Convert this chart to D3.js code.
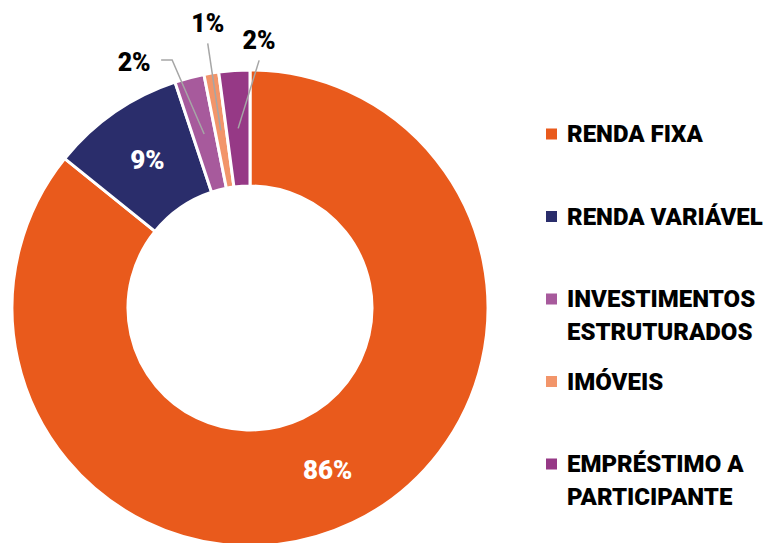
<!DOCTYPE html>
<html>
<head>
<meta charset="utf-8">
<script src="https://cdn.jsdelivr.net/npm/d3@7"></script>
<style>
  body { margin: 0; background: #fff; }
  text { font-family: Roboto, "Noto Sans", sans-serif; font-weight: 900; }
</style>
</head>
<body>
<svg id="chart" width="767" height="543"></svg>
<script>
// carteira por segmento (%)
var categories = ["RENDA FIXA", "RENDA VARIÁVEL", "INVESTIMENTOS ESTRUTURADOS", "IMÓVEIS", "EMPRÉSTIMO A PARTICIPANTE"];
var values = [85.8, 9.1, 2.0, 1.0, 2.1];
var legendLines = [["RENDA FIXA"], ["RENDA VARIÁVEL"], ["INVESTIMENTOS", "ESTRUTURADOS"], ["IMÓVEIS"], ["EMPRÉSTIMO A", "PARTICIPANTE"]];
var colors = ["#e95a1c", "#2a2d6b", "#a75a9c", "#f2956a", "#963986"];

var svg = d3.select("#chart");
var cx = 250, cy = 308, outerR = 238, innerR = 122;

var data = categories.map(function(c, i) { return {name: c, value: values[i], color: colors[i]}; });

var pie = d3.pie().sort(null).value(function(d) { return d.value; });
var arc = d3.arc().innerRadius(innerR).outerRadius(outerR);
var arcs = pie(data);

var g = svg.append("g").attr("transform", "translate(" + cx + "," + cy + ")");

g.selectAll("path.slice")
    .data(arcs)
    .enter()
    .append("path")
    .attr("class", "slice")
    .attr("d", arc)
    .attr("fill", function(d) { return d.data.color; })
    .attr("stroke", "#fff")
    .attr("stroke-width", 3);

// big slices: label inside
g.selectAll("text.inner")
    .data(arcs.filter(function(d) { return d.data.value >= 5; }))
    .enter()
    .append("text")
    .attr("class", "inner")
    .attr("transform", function(d) { return "translate(" + arc.centroid(d) + ")"; })
    .attr("text-anchor", "middle")
    .attr("dy", "0.35em")
    .attr("fill", "#fff")
    .style("font-size", "26px")
    .text(function(d) { return Math.round(d.data.value) + "%"; });

// small slices: label outside with leader line
var outside = arcs.filter(function(d) { return d.data.value < 5; });
// label offsets relative to centroid
var labelPos = [[-70, -72], [-13, -107], [21, -88]];
var elbow = [true, false, false];

outside.forEach(function(d, i) {
    var c = arc.centroid(d);
    var lx = c[0] + labelPos[i][0], ly = c[1] + labelPos[i][1];
    var pts;
    if (elbow[i]) {
        pts = [[lx + 27, ly - 2], [lx + 38, ly - 2], c];
    } else {
        pts = [[lx, ly + 20], c];
    }
    g.append("path")
        .attr("d", d3.line()(pts))
        .attr("fill", "none")
        .attr("stroke", "#a6a6a6")
        .attr("stroke-width", 1.5);
    g.append("text")
        .attr("x", lx)
        .attr("y", ly)
        .attr("text-anchor", "middle")
        .attr("dy", "0.35em")
        .attr("fill", "#000")
        .style("font-size", "25px")
        .text(Math.round(d.data.value) + "%");
});

// legend
var legend = svg.append("g").attr("transform", "translate(546,0)");
var rowY = d3.scaleLinear().domain([0, 4]).range([134, 464]);

legendLines.forEach(function(lines, i) {
    var y = rowY(i);
    legend.append("rect")
        .attr("x", 0)
        .attr("y", y - 5.5)
        .attr("width", 11)
        .attr("height", 11)
        .attr("fill", colors[i]);
    lines.forEach(function(t, j) {
        legend.append("text")
            .attr("x", 21)
            .attr("y", y + j * 33)
            .attr("dy", "0.35em")
            .attr("fill", "#000")
            .style("font-size", "24px")
            .text(t);
    });
});
</script>
</body>
</html>
